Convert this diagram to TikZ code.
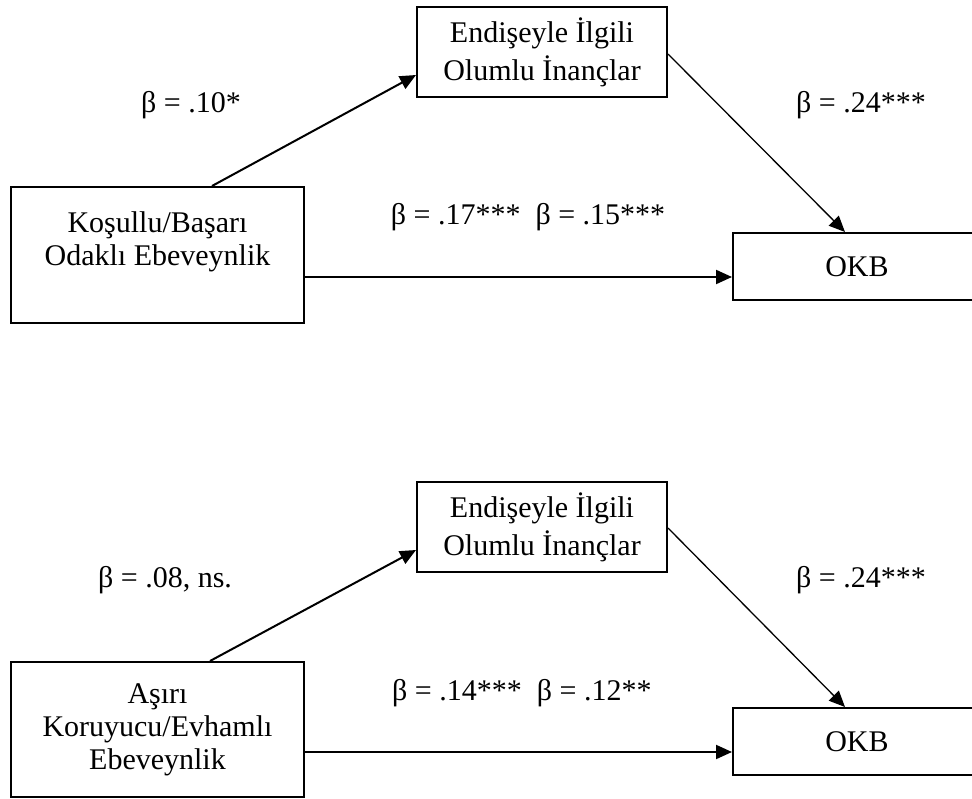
\documentclass[tikz,border=0pt]{standalone}
\usepackage{fontspec}
\setmainfont{Liberation Serif}
\usetikzlibrary{arrows.meta}
\tikzset{
  boxnode/.style={draw, line width=2pt, inner sep=0pt, align=center,
    font=\fontsize{30}{33}\selectfont},
  lbl/.style={inner sep=0pt, anchor=base, font=\fontsize{30}{33}\selectfont},
  arr/.style={line width=2pt, -{Triangle[length=16pt,width=14pt]}},
  thinarr/.style={line width=1.3pt, -{Triangle[length=16pt,width=14pt]}}
}
\begin{document}
\begin{tikzpicture}[x=1pt,y=-1pt]
\useasboundingbox (0,0) rectangle (972,799);
% ---- top model ----
\node[boxnode, minimum width=250pt, minimum height=90pt,
  font=\fontsize{30}{38}\selectfont] (e1) at (542,52) {Endişeyle İlgili\\Olumlu İnançlar};
\node[boxnode, minimum width=293pt, minimum height=136pt] (k1) at (157.5,255)
  {Koşullu/Başarı\\Odaklı Ebeveynlik\\\mbox{}};
\node[boxnode, minimum width=248pt, minimum height=67pt] (o1) at (857,266.5) {OKB};
\draw[arr] ([xshift=54.5pt]k1.north) -- ([yshift=-23pt]e1.west);
\draw[thinarr] ([yshift=-2pt]e1.east) -- ([xshift=-12pt]o1.north);
\draw[arr] ([yshift=-22pt]k1.east) -- ([yshift=-22pt]k1.east -| o1.west);
\node[lbl] (l1) at (191,113) {β = .10*};
\node[lbl] (l2) at (861,113) {β = .24***};
\node[lbl] (l3) at (528,225) {β = .17***\hspace{0.25em} β = .15***};
% ---- bottom model ----
\node[boxnode, minimum width=250pt, minimum height=90pt,
  font=\fontsize{30}{38}\selectfont] (e2) at (542,527) {Endişeyle İlgili\\Olumlu İnançlar};
\node[boxnode, minimum width=293pt, minimum height=135pt] (k2) at (157.5,729.5)
  {Aşırı\\Koruyucu/Evhamlı\\Ebeveynlik};
\node[boxnode, minimum width=248pt, minimum height=67pt] (o2) at (857,741.5) {OKB};
\draw[arr] ([xshift=52.5pt]k2.north) -- ([yshift=-23pt]e2.west);
\draw[thinarr] ([yshift=-1pt]e2.east) -- ([xshift=-12pt]o2.north);
\draw[arr] ([yshift=-22.5pt]k2.east) -- ([yshift=-22.5pt]k2.east -| o2.west);
\node[lbl] (l4) at (165,587) {β = .08, ns.};
\node[lbl] (l5) at (861,587) {β = .24***};
\node[lbl, anchor=base west] (l6) at (392,700) {β = .14***\hspace{0.25em} β = .12**};
\end{tikzpicture}
\end{document}
